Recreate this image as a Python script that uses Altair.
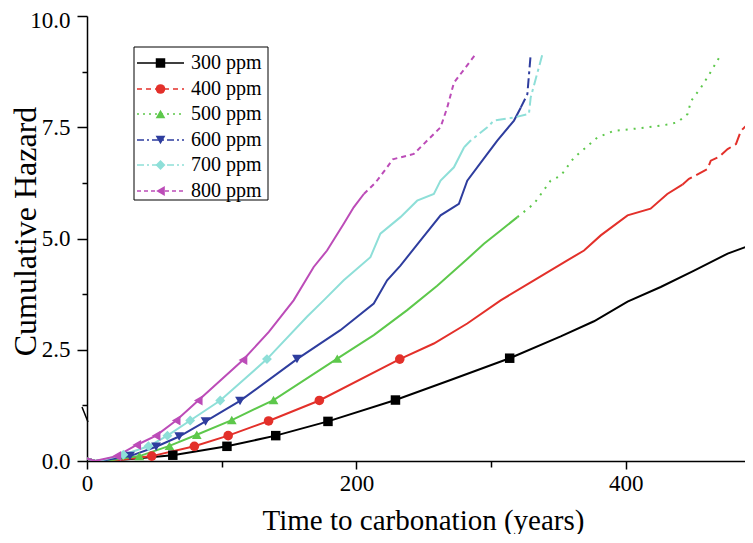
import altair as alt
import pandas as pd

FONT = "Liberation Serif"

series = ["300 ppm", "400 ppm", "500 ppm", "600 ppm", "700 ppm", "800 ppm"]
colors = ["#000000", "#E3302A", "#5DC84B", "#2E3D9E", "#8EDFD8", "#BC4CB8"]
shapes = ["square", "circle", "triangle-up", "triangle-down", "diamond", "triangle-left"]

# ---- curve data (time in years, cumulative hazard) ----
x300 = [0, 6, 30, 63.7, 103.9, 140.1, 178.9, 229, 269.9, 313.8, 351.7, 376.4, 401.3, 425.9, 450.7, 475.6, 491.7, 495.4]
y300 = [0.06, 0, 0.04, 0.13, 0.33, 0.57, 0.89, 1.37, 1.82, 2.31, 2.80, 3.14, 3.58, 3.91, 4.28, 4.66, 4.84, 4.99]

x400 = [0, 6, 25, 48.1, 79.7, 104.8, 134.8, 172.5, 232.2, 257.5, 282.3, 307.1, 331.8, 356.6, 369, 381.4, 401.3,
        418.4, 430.8, 442, 446.9, 460.6, 463.1, 469.4, 475.6, 481.8, 485.5, 494.2]
y400 = [0.06, 0, 0.03, 0.11, 0.33, 0.57, 0.90, 1.36, 2.29, 2.64, 3.09, 3.61, 4.06, 4.51, 4.73, 5.07, 5.52,
        5.67, 6.00, 6.21, 6.34, 6.56, 6.75, 6.84, 7.01, 7.12, 7.42, 7.68]

x500 = [0, 6, 20, 38.9, 61.2, 81.5, 107.5, 138.5, 185.8, 212.9, 237.7, 260, 282.3, 294.7, 307.1, 319.5, 331.8,
        344.2, 351.7, 361.6, 369, 378.9, 391.3, 411.2, 431, 438.4, 445.9, 448.4, 455.8, 462, 469.4]
y500 = [0.06, 0, 0.03, 0.11, 0.34, 0.59, 0.92, 1.37, 2.30, 2.83, 3.39, 3.94, 4.54, 4.88, 5.18, 5.48, 5.78,
        6.30, 6.41, 6.82, 7.01, 7.27, 7.42, 7.48, 7.56, 7.61, 7.80, 8.09, 8.39, 8.69, 9.07]

x600 = [0, 6, 15, 31.9, 51.3, 68.4, 88.0, 113.6, 155.9, 188.1, 212.9, 222.8, 232.7, 247.6, 262.5, 276.1, 282.3,
        297.2, 304.6, 317, 322, 326.9, 329.4]
y600 = [0.06, 0, 0.03, 0.11, 0.32, 0.55, 0.89, 1.35, 2.29, 2.94, 3.54, 4.06, 4.39, 4.96, 5.52, 5.78, 6.30,
        6.90, 7.20, 7.65, 7.94, 8.24, 9.14]

x700 = [0, 6, 12, 27.0, 45.6, 59.7, 76.6, 98.9, 133.6, 163.3, 175.7, 190.6, 210.4, 217.8, 232.7, 245.1, 257.5,
        262.5, 272.4, 280, 284.8, 297.2, 302.1, 317, 328.1, 329.4, 338.1]
y700 = [0.06, 0, 0.03, 0.14, 0.33, 0.57, 0.91, 1.36, 2.29, 3.24, 3.61, 4.06, 4.58, 5.11, 5.48, 5.85, 6.00,
        6.30, 6.60, 7.05, 7.20, 7.50, 7.65, 7.72, 7.80, 8.17, 9.14]

x800 = [0, 6, 10, 22.1, 36.9, 51.3, 66.2, 82.6, 115.8, 135, 153.4, 168.3, 178.2, 190.6, 198, 205.5, 214,
        222.8, 227, 242.6, 262.5, 267.4, 272.4, 288.5]
y800 = [0.06, 0, 0.03, 0.11, 0.36, 0.57, 0.91, 1.36, 2.27, 2.90, 3.61, 4.36, 4.73, 5.33, 5.70, 6.00, 6.25,
        6.60, 6.78, 6.90, 7.50, 7.94, 8.50, 9.14]

# ---- marker positions ----
mx300 = [63.7, 103.9, 140.1, 178.9, 229.0, 313.8]
my300 = [0.13, 0.33, 0.57, 0.89, 1.37, 2.31]
mx400 = [48.1, 79.7, 104.8, 134.8, 172.5, 232.2]
my400 = [0.11, 0.33, 0.57, 0.90, 1.36, 2.29]
mx500 = [38.9, 61.2, 81.5, 107.5, 138.5, 185.8]
my500 = [0.11, 0.34, 0.59, 0.92, 1.37, 2.30]
mx600 = [31.9, 51.3, 68.4, 88.0, 113.6, 155.9]
my600 = [0.11, 0.32, 0.55, 0.89, 1.35, 2.29]
mx700 = [27.0, 45.6, 59.7, 76.6, 98.9, 133.6]
my700 = [0.14, 0.33, 0.57, 0.91, 1.36, 2.29]
mx800 = [22.1, 36.9, 51.3, 66.2, 82.6, 115.8]
my800 = [0.11, 0.36, 0.57, 0.91, 1.36, 2.27]

curves = {
    "300 ppm": (x300, y300), "400 ppm": (x400, y400), "500 ppm": (x500, y500),
    "600 ppm": (x600, y600), "700 ppm": (x700, y700), "800 ppm": (x800, y800),
}
markers = {
    "300 ppm": (mx300, my300), "400 ppm": (mx400, my400), "500 ppm": (mx500, my500),
    "600 ppm": (mx600, my600), "700 ppm": (mx700, my700), "800 ppm": (mx800, my800),
}

# style: where the sparse, visibly dashed tail of each curve begins
tail_start = {"300 ppm": None, "400 ppm": 442, "500 ppm": 319.5, "600 ppm": 322,
              "700 ppm": 280, "800 ppm": 205.5}
tail_dash = [[1, 0], [12, 5], [2, 6], [10, 4, 3, 4], [10, 4, 3, 4], [5, 4]]
legend_dash = [[1, 0], [5, 4], [2, 4], [7, 3, 2, 3], [7, 3, 2, 3], [4, 3]]
marker_size = [90, 100, 115, 115, 145, 115]

solid_rows, tail_rows, mark_rows = [], [], []
for s in series:
    xs, ys = curves[s]
    b = tail_start[s]
    for i, (xv, yv) in enumerate(zip(xs, ys)):
        if b is None or xv <= b:
            solid_rows.append({"series": s, "t": xv, "h": yv, "idx": i})
        if b is not None and xv >= b:
            tail_rows.append({"series": s, "t": xv, "h": yv, "idx": i})
    mxs, mys = markers[s]
    for xv, yv in zip(mxs, mys):
        mark_rows.append({"series": s, "t": xv, "h": yv})

df_solid = pd.DataFrame(solid_rows)
df_tail = pd.DataFrame(tail_rows)
df_marks = pd.DataFrame(mark_rows)

# legend rows (pixel positions inside the plot area)
leg_y = [47, 73, 98, 124, 149, 175]
df_leg = pd.DataFrame({"series": series, "ly": leg_y})

xscale = alt.Scale(domain=[0, 488.5], nice=False, zero=False)
yscale = alt.Scale(domain=[0, 10], nice=False)
cscale = alt.Scale(domain=series, range=colors)
shscale = alt.Scale(domain=series, range=shapes)
szscale = alt.Scale(domain=series, range=marker_size)

xaxis = alt.Axis(
    title="Time to carbonation (years)",
    values=[0, 100, 200, 300, 400],
    labelExpr="datum.value % 200 === 0 ? format(datum.value, 'd') : ''",
    tickSize={"condition": {"test": "datum.value % 200 === 0", "value": 8}, "value": 6},
    labelPadding=3, labelFlush=False, grid=False,
    titleX=336, titleY=68, titleBaseline="alphabetic", titleAnchor="middle",
    titleFontSize=29,
)
yaxis = alt.Axis(
    title="Cumulative Hazard",
    values=[0, 1.25, 2.5, 3.75, 5, 6.25, 7.5, 8.75, 10],
    labelExpr="datum.value % 2.5 === 0 ? format(datum.value, '.1f') : ''",
    tickSize={"condition": {"test": "datum.value % 2.5 === 0", "value": 10}, "value": 5},
    labelOffset={"condition": {"test": "datum.value === 10", "value": 4}, "value": 0},
    labelPadding=7, labelFlush=False, grid=False,
    titleX=-52, titleY=215, titleBaseline="alphabetic", titleAnchor="middle",
    titleFontSize=32,
)

X = alt.X("t:Q", scale=xscale, axis=xaxis)
Y = alt.Y("h:Q", scale=yscale, axis=yaxis)
C = alt.Color("series:N", scale=cscale, legend=None)

solid = alt.Chart(df_solid).mark_line(strokeWidth=2, clip=True).encode(
    x=X, y=Y, color=C, detail="series:N", order="idx:Q")
tail = alt.Chart(df_tail).mark_line(strokeWidth=2, clip=True).encode(
    x=X, y=Y, color=C, detail="series:N", order="idx:Q",
    strokeDash=alt.StrokeDash("series:N", scale=alt.Scale(domain=series, range=tail_dash), legend=None))
points = alt.Chart(df_marks).mark_point(filled=True, opacity=1, strokeWidth=0).encode(
    x=X, y=Y, color=C,
    shape=alt.Shape("series:N", scale=shscale, legend=None),
    size=alt.Size("series:N", scale=szscale, legend=None))

one = pd.DataFrame({"a": [0]})
axis_break = alt.Chart(one).mark_rule(color="black", strokeWidth=1.5).encode(
    x=alt.value(-5), x2=alt.value(1), y=alt.value(391), y2=alt.value(406))

leg_box = alt.Chart(one).mark_rect(fill="white", stroke="black", strokeWidth=1).encode(
    x=alt.value(47), x2=alt.value(181), y=alt.value(31), y2=alt.value(184))
LY = alt.Y("ly:Q", scale=None, axis=None)
leg_lines = alt.Chart(df_leg).mark_rule(strokeWidth=1.5).encode(
    x=alt.value(50), x2=alt.value(97), y=LY, color=C,
    strokeDash=alt.StrokeDash("series:N", scale=alt.Scale(domain=series, range=legend_dash), legend=None))
leg_pts = alt.Chart(df_leg).mark_point(filled=True, opacity=1, strokeWidth=0).encode(
    x=alt.value(73.5), y=LY, color=C,
    shape=alt.Shape("series:N", scale=shscale, legend=None),
    size=alt.Size("series:N", scale=szscale, legend=None))
leg_txt = alt.Chart(df_leg).mark_text(align="left", baseline="middle", font=FONT, fontSize=20,
                                      color="black").encode(
    x=alt.value(104), y=LY, text="series:N")

chart = alt.layer(
    axis_break, solid, tail, points, leg_box, leg_lines, leg_pts, leg_txt
).resolve_scale(strokeDash="independent").properties(
    width=658, height=445,
    autosize=alt.AutoSizeParams(type="none"),
    padding={"left": 79, "top": 8, "right": 0, "bottom": 73},
).configure_view(stroke=None).configure_axis(
    domainColor="black", domainWidth=1.5, tickColor="black", tickWidth=1.5,
    labelFont=FONT, labelFontSize=23, labelColor="black",
    titleFont=FONT, titleFontWeight="normal", titleColor="black",
)

chart.save("out.html", embed_options={"renderer": "svg", "actions": False})
